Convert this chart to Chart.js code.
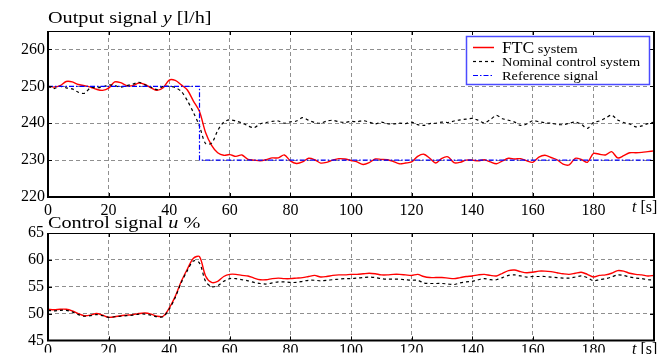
<!DOCTYPE html>
<html>
<head>
<meta charset="utf-8">
<script src="https://cdn.jsdelivr.net/npm/chart.js@4.4.1/dist/chart.umd.min.js"></script>
<style>
  html, body { margin: 0; padding: 0; background: #fff; }
  #wrap { position: relative; width: 659px; height: 354px; overflow: hidden; }
  canvas { position: absolute; left: 0; }
</style>
</head>
<body>
<div id="wrap">
  <canvas id="outChart" width="659" height="215" style="top:0"></canvas>
  <canvas id="ctlChart" width="659" height="139" style="top:215px"></canvas>
</div>
<script>
// time axis [s]
const time = [0, 2, 4, 6, 8, 10, 12, 14, 16, 18, 20, 22, 24, 26, 28, 30, 32, 34, 36, 38,
  40, 42, 44, 46, 48, 50, 52, 54, 56, 58, 60, 62, 64, 66, 68, 70, 72, 74, 76, 78,
  80, 82, 84, 86, 88, 90, 92, 94, 96, 98, 100, 102, 104, 106, 108, 110, 112, 114, 116, 118,
  120, 122, 124, 126, 128, 130, 132, 134, 136, 138, 140, 142, 144, 146, 148, 150, 152, 154, 156, 158,
  160, 162, 164, 166, 168, 170, 172, 174, 176, 178, 180, 182, 184, 186, 188, 190, 192, 194, 196, 198, 200];

// output signal y [l/h]
const ftcOutput = [250.0, 249.8, 250.2, 251.3, 251.2, 250.5, 250.2, 249.8, 249.2, 248.9,
  249.5, 251.2, 251.0, 250.2, 250.2, 250.9, 250.5, 249.6, 248.9, 249.6,
  251.7, 251.6, 250.4, 249.0, 246.0, 243.2, 237.5, 234.0, 232.0, 231.3,
  231.5, 231.0, 231.4, 230.2, 230.0, 229.8, 230.1, 230.6, 230.6, 231.4,
  229.8, 229.1, 229.5, 230.5, 230.1, 229.2, 229.4, 230.0, 230.4, 230.3,
  229.9, 229.5, 228.8, 229.3, 230.3, 230.2, 230.1, 229.6, 229.0, 229.2,
  229.5, 231.0, 231.6, 230.5, 229.2, 230.5, 230.9, 229.3, 229.4, 230.0,
  230.0, 229.8, 230.1, 229.5, 229.0, 229.8, 230.5, 230.3, 230.4, 229.8,
  229.4, 230.8, 231.3, 230.7, 230.1, 228.9, 228.7, 230.5, 230.2, 229.4,
  231.8, 231.6, 231.4, 232.3, 230.6, 231.2, 232.0, 232.0, 232.1, 232.3, 232.5];
const nominalOutput = [250.0, 249.4, 250.0, 249.6, 249.3, 248.4, 248.1, 249.6, 249.6, 249.8,
  250.4, 250.2, 249.8, 250.2, 250.6, 251.1, 250.4, 249.8, 249.1, 250.0,
  250.0, 249.7, 248.6, 246.1, 242.9, 239.2, 234.5, 234.6, 238.0, 240.3,
  240.9, 240.6, 240.1, 239.3, 238.8, 239.8, 240.2, 240.5, 240.6, 240.0,
  240.4, 240.6, 241.5, 240.8, 240.2, 240.0, 240.6, 240.8, 240.4, 240.2,
  240.5, 240.4, 240.7, 240.3, 239.8, 240.3, 239.9, 239.8, 240.0, 239.9,
  240.3, 239.6, 239.4, 239.9, 240.0, 240.3, 240.2, 240.6, 240.9, 241.1,
  241.3, 240.8, 240.1, 241.0, 242.1, 241.2, 240.8, 240.3, 239.4, 239.8,
  240.7, 240.4, 240.1, 240.0, 239.7, 239.6, 240.0, 240.3, 239.7, 238.6,
  240.2, 240.6, 241.4, 242.2, 240.9, 240.2, 239.8, 239.0, 239.3, 239.9, 240.3];
const refTime = [0, 50, 50, 200];
const refSignal = [250, 250, 230, 230];

// control signal u %
const ftcControl = [50.8, 50.7, 50.8, 50.8, 50.5, 50.0, 49.6, 49.7, 50.0, 49.7,
  49.3, 49.4, 49.6, 49.7, 49.8, 50.0, 50.1, 49.9, 49.5, 49.5,
  51.0, 53.2, 56.0, 58.3, 60.3, 60.6, 57.0, 55.8, 56.0, 56.9,
  57.3, 57.3, 57.1, 57.0, 56.6, 56.3, 56.3, 56.5, 56.6, 56.5,
  56.5, 56.6, 56.7, 56.9, 57.1, 56.8, 56.9, 57.1, 57.2, 57.2,
  57.3, 57.3, 57.4, 57.5, 57.4, 57.2, 57.2, 57.3, 57.3, 57.2,
  57.1, 57.3, 56.9, 56.7, 56.7, 56.7, 56.6, 56.5, 56.7, 56.9,
  57.0, 57.2, 57.3, 57.1, 57.0, 57.5, 58.0, 58.1, 57.8, 57.6,
  57.7, 57.9, 57.9, 57.8, 57.6, 57.4, 57.3, 57.5, 57.7, 57.3,
  56.8, 57.1, 57.2, 57.5, 58.0, 57.9, 57.5, 57.3, 57.2, 57.0, 57.1];
const nominalControl = [50.6, 50.5, 50.6, 50.6, 50.3, 49.8, 49.5, 49.6, 49.8, 49.6,
  49.3, 49.4, 49.5, 49.6, 49.7, 49.9, 49.9, 49.7, 49.4, 49.4,
  50.8, 53.0, 55.8, 58.0, 59.8, 59.4, 56.0, 55.0, 55.2, 56.0,
  56.5, 56.5, 56.3, 56.1, 55.8, 55.6, 55.5, 55.7, 55.9, 55.9,
  55.8, 55.8, 56.0, 56.2, 56.2, 56.1, 56.2, 56.3, 56.4, 56.5,
  56.5, 56.6, 56.7, 56.8, 56.7, 56.5, 56.4, 56.4, 56.4, 56.3,
  56.2, 56.2, 55.7, 55.6, 55.6, 55.6, 55.5, 55.4, 55.7, 55.9,
  56.0, 56.3, 56.5, 56.3, 56.3, 56.7, 57.1, 57.2, 57.0, 56.8,
  56.9, 56.9, 56.9, 56.8, 56.7, 56.6, 56.6, 56.8, 57.0, 56.7,
  56.1, 56.3, 56.5, 56.8, 57.2, 57.1, 56.8, 56.6, 56.5, 56.3, 56.3];

const legendLabels = ['FTC', ' system', 'Nominal control system', 'Reference signal'];

const SERIF = '"Liberation Serif", "DejaVu Serif", serif';
const pts = (xs, ys) => xs.map((x, i) => ({ x: x, y: ys[i] }));

// text in the original is a little wide, so stretch it horizontally
function wideText(ctx, text, x, y, sx) {
    ctx.save();
    ctx.translate(x, y);
    ctx.scale(sx, 1);
    ctx.fillText(text, 0, 0);
    ctx.restore();
    return ctx.measureText(text).width * sx;
}

// draws title, frame, inward tick marks, "t [s]" and (optionally) the legend
function makeDecor(titleParts, titleY, unitY, withLegend) {
    return {
        id: 'decor',
        afterDraw(chart) {
            const ctx = chart.ctx;
            const a = chart.chartArea;
            const xs = chart.scales.x, ys = chart.scales.y;
            ctx.save();

            // title with italic variable
            let tx = a.left;
            ctx.fillStyle = '#000';
            ctx.textBaseline = 'alphabetic';
            titleParts.forEach(p => {
                ctx.font = (p.italic ? 'italic ' : '') + '17px ' + SERIF;
                tx += wideText(ctx, p.text, tx, titleY, 1.19);
            });

            // inward tick marks
            ctx.strokeStyle = '#000';
            ctx.lineWidth = 1;
            ctx.beginPath();
            xs.ticks.forEach(t => {
                const px = Math.round(xs.getPixelForValue(t.value)) + 0.5;
                ctx.moveTo(px, a.top); ctx.lineTo(px, a.top + 4);
                ctx.moveTo(px, a.bottom); ctx.lineTo(px, a.bottom - 4);
            });
            ys.ticks.forEach(t => {
                const py = Math.round(ys.getPixelForValue(t.value)) + 0.5;
                ctx.moveTo(a.left, py); ctx.lineTo(a.left + 4, py);
                ctx.moveTo(a.right, py); ctx.lineTo(a.right - 4, py);
            });
            ctx.stroke();

            // frame
            ctx.lineWidth = 1;
            ctx.beginPath();
            ctx.moveTo(a.left, a.top + 0.5); ctx.lineTo(a.right, a.top + 0.5);
            ctx.stroke();
            ctx.lineWidth = 2;
            ctx.beginPath();
            ctx.moveTo(a.left, a.top); ctx.lineTo(a.left, a.bottom);
            ctx.lineTo(a.right, a.bottom); ctx.lineTo(a.right, a.top);
            ctx.stroke();

            // axis unit
            ctx.textAlign = 'left';
            ctx.font = 'italic 16px ' + SERIF;
            let ux = 632;
            ctx.fillText('t', ux, unitY);
            ux += ctx.measureText('t').width;
            ctx.font = '16px ' + SERIF;
            ctx.fillText(' [s]', ux, unitY);

            if (withLegend) {
                const lx = 466, ly = 36, lw = 183, lh = 48;
                ctx.fillStyle = '#fff';
                ctx.fillRect(lx, ly, lw, lh);
                ctx.strokeStyle = '#4b4bff';
                ctx.lineWidth = 1.5;
                ctx.strokeRect(lx + 0.5, ly + 0.5, lw, lh);

                const rows = [
                    { y: 47.5, color: '#ff0000', dash: [], width: 1.5 },
                    { y: 61.5, color: '#000', dash: [3, 3], width: 1.2 },
                    { y: 75.5, color: '#0000ff', dash: [5, 2, 1.5, 2], width: 1.2 }
                ];
                rows.forEach(r => {
                    ctx.strokeStyle = r.color;
                    ctx.lineWidth = r.width;
                    ctx.setLineDash(r.dash);
                    ctx.beginPath();
                    ctx.moveTo(473, r.y); ctx.lineTo(494, r.y);
                    ctx.stroke();
                });
                ctx.setLineDash([]);
                ctx.fillStyle = '#000';
                ctx.font = '16px ' + SERIF;
                const w = wideText(ctx, legendLabels[0], 502, 53, 1.1);
                ctx.font = '12.5px ' + SERIF;
                wideText(ctx, legendLabels[1], 502 + w, 53, 1.15);
                wideText(ctx, legendLabels[2], 502, 66, 1.15);
                wideText(ctx, legendLabels[3], 502, 79.5, 1.15);
            }
            ctx.restore();
        }
    };
}

function baseOptions(yMin, yMax, yLabelEvery, yWidth, yPad, xHeight, xPad, padTop) {
    return {
        responsive: false,
        animation: false,
        devicePixelRatio: 1,
        layout: { padding: { top: padTop, right: 5, left: 0, bottom: 0 } },
        plugins: { legend: { display: false }, tooltip: { enabled: false } },
        elements: { point: { radius: 0 } },
        scales: {
            x: {
                type: 'linear',
                min: 0,
                max: 200,
                afterFit: s => { s.height = xHeight; },
                grid: { color: '#8f8f8f', lineWidth: 1, drawTicks: false },
                border: { display: false, dash: [4, 3] },
                ticks: {
                    stepSize: 20,
                    padding: xPad,
                    color: '#000',
                    font: { family: SERIF, size: 16 },
                    maxRotation: 0,
                    callback: v => (v === 200 ? '' : v)
                }
            },
            y: {
                min: yMin,
                max: yMax,
                afterFit: s => { s.width = yWidth; },
                grid: { color: '#8f8f8f', lineWidth: 1, drawTicks: false },
                border: { display: false, dash: [4, 3] },
                ticks: {
                    stepSize: 5,
                    padding: yPad,
                    color: '#000',
                    font: { family: SERIF, size: 16 },
                    callback: v => (v % yLabelEvery === 0 ? v : '')
                }
            }
        }
    };
}

new Chart(document.getElementById('outChart'), {
    type: 'line',
    data: {
        datasets: [
            {
                label: 'Reference signal',
                data: pts(refTime, refSignal),
                borderColor: '#0000ff',
                borderWidth: 1.2,
                borderDash: [5, 2, 1.5, 2],
                tension: 0
            },
            {
                label: 'Nominal control system',
                data: pts(time, nominalOutput),
                borderColor: '#000000',
                borderWidth: 1.2,
                borderDash: [3, 3],
                tension: 0.3
            },
            {
                label: 'FTC system',
                data: pts(time, ftcOutput),
                borderColor: '#ff0000',
                borderWidth: 1.4,
                tension: 0.3
            }
        ]
    },
    options: baseOptions(220, 265, 10, 48, 3, 18, 4, 31),
    plugins: [makeDecor([{ text: 'Output signal ' }, { text: 'y', italic: true }, { text: ' [l/h]' }], 23, 212, true)]
});

new Chart(document.getElementById('ctlChart'), {
    type: 'line',
    data: {
        datasets: [
            {
                label: 'Nominal control system',
                data: pts(time, nominalControl),
                borderColor: '#000000',
                borderWidth: 1.2,
                borderDash: [3, 3],
                tension: 0.3
            },
            {
                label: 'FTC system',
                data: pts(time, ftcControl),
                borderColor: '#ff0000',
                borderWidth: 1.4,
                tension: 0.3
            }
        ]
    },
    options: baseOptions(45, 65, 5, 48, 4, 12, 1, 18),
    plugins: [makeDecor([{ text: 'Control signal ' }, { text: 'u', italic: true }, { text: ' %' }], 13, 139, false)]
});
</script>
</body>
</html>
